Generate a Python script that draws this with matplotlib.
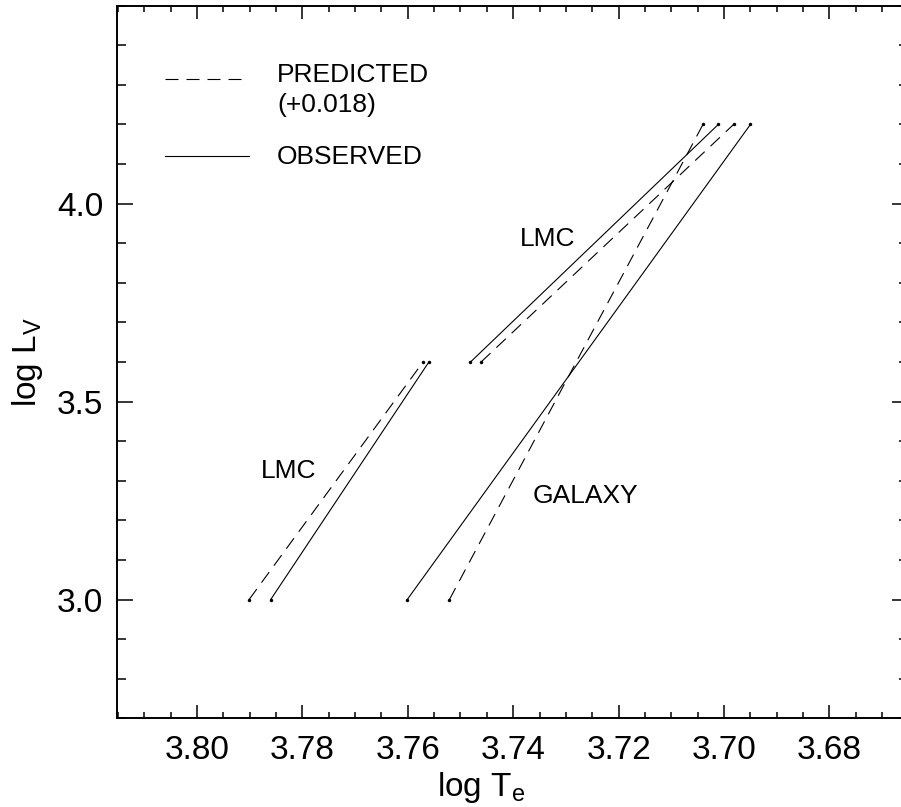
import matplotlib
matplotlib.use("Agg")
import matplotlib.pyplot as plt
from matplotlib.ticker import MultipleLocator, FixedLocator

plt.rcParams["font.family"] = ["Liberation Sans", "DejaVu Sans"]
plt.rcParams["mathtext.default"] = "regular"

# line end points (log Te, log Lv)
lmc_low_pred_x = [3.7901, 3.7571]
lmc_low_pred_y = [3.0, 3.6]
lmc_low_obs_x = [3.7860, 3.7560]
lmc_low_obs_y = [3.0, 3.6]

lmc_high_obs_x = [3.7481, 3.7011]
lmc_high_obs_y = [3.6, 4.2]
lmc_high_pred_x = [3.7461, 3.6982]
lmc_high_pred_y = [3.6, 4.2]

gal_obs_x = [3.7601, 3.6950]
gal_obs_y = [3.0, 4.2]
gal_pred_x = [3.7521, 3.7040]
gal_pred_y = [3.0, 4.2]

y_major = [3.0, 3.5, 4.0]

fig = plt.figure(figsize=(9.01, 8.07), dpi=100)
ax = fig.add_axes([0.1302, 0.1099, 0.8776, 0.8830])

dash = (11.7, 7.2)
lw = 0.8
for xs, ys in [(lmc_low_pred_x, lmc_low_pred_y), (lmc_high_pred_x, lmc_high_pred_y),
               (gal_pred_x, gal_pred_y)]:
    ax.plot(xs, ys, color="black", lw=lw, dashes=dash, marker="o", ms=2.5,
            markerfacecolor="black", markeredgewidth=0)
for xs, ys in [(lmc_low_obs_x, lmc_low_obs_y), (lmc_high_obs_x, lmc_high_obs_y),
               (gal_obs_x, gal_obs_y)]:
    ax.plot(xs, ys, color="black", lw=lw, marker="o", ms=2.5,
            markerfacecolor="black", markeredgewidth=0)

# legend drawn by hand
ax.plot([3.8061, 3.7901], [4.314, 4.314], color="black", lw=lw, dashes=dash)
ax.plot([3.8061, 3.7901], [4.121, 4.121], color="black", lw=lw)
ax.text(3.7848, 4.324, "PREDICTED", fontsize=19, va="center", ha="left")
ax.text(3.7848, 4.250, "(+0.018)", fontsize=19, va="center", ha="left")
ax.text(3.7848, 4.119, "OBSERVED", fontsize=19, va="center", ha="left")

ax.text(3.7388, 3.91, "LMC", fontsize=19, va="center", ha="left")
ax.text(3.7879, 3.325, "LMC", fontsize=19, va="center", ha="left")
ax.text(3.7363, 3.262, "GALAXY", fontsize=19, va="center", ha="left")

ax.set_xlim(3.8151, 3.6651)
ax.set_ylim(2.7, 4.5)
ax.xaxis.set_major_locator(MultipleLocator(0.02))
ax.xaxis.set_minor_locator(MultipleLocator(0.005))
ax.yaxis.set_major_locator(FixedLocator(y_major))
ax.yaxis.set_minor_locator(MultipleLocator(0.1))
ax.xaxis.set_major_formatter(plt.FormatStrFormatter("%.2f"))
ax.yaxis.set_major_formatter(plt.FormatStrFormatter("%.1f"))

ax.tick_params(axis="x", which="major", direction="in", top=True, length=9.4, width=1.1,
               labelsize=24, pad=12)
ax.tick_params(axis="x", which="minor", direction="in", top=True, length=4.5, width=1.1)
ax.tick_params(axis="y", which="major", direction="in", right=True, length=11.5, width=1.1,
               labelsize=24, pad=10)
ax.tick_params(axis="y", which="minor", direction="in", right=True, length=6.2, width=1.1)
for s in ax.spines.values():
    s.set_linewidth(1.4)

ax.set_xlabel("log T$_e$", fontsize=24)
ax.xaxis.set_label_coords(0.46, -0.072)
ax.set_ylabel("log L$_V$", fontsize=24)
ax.yaxis.set_label_coords(-0.092, 0.5)

fig.savefig("out.png", dpi=100)
